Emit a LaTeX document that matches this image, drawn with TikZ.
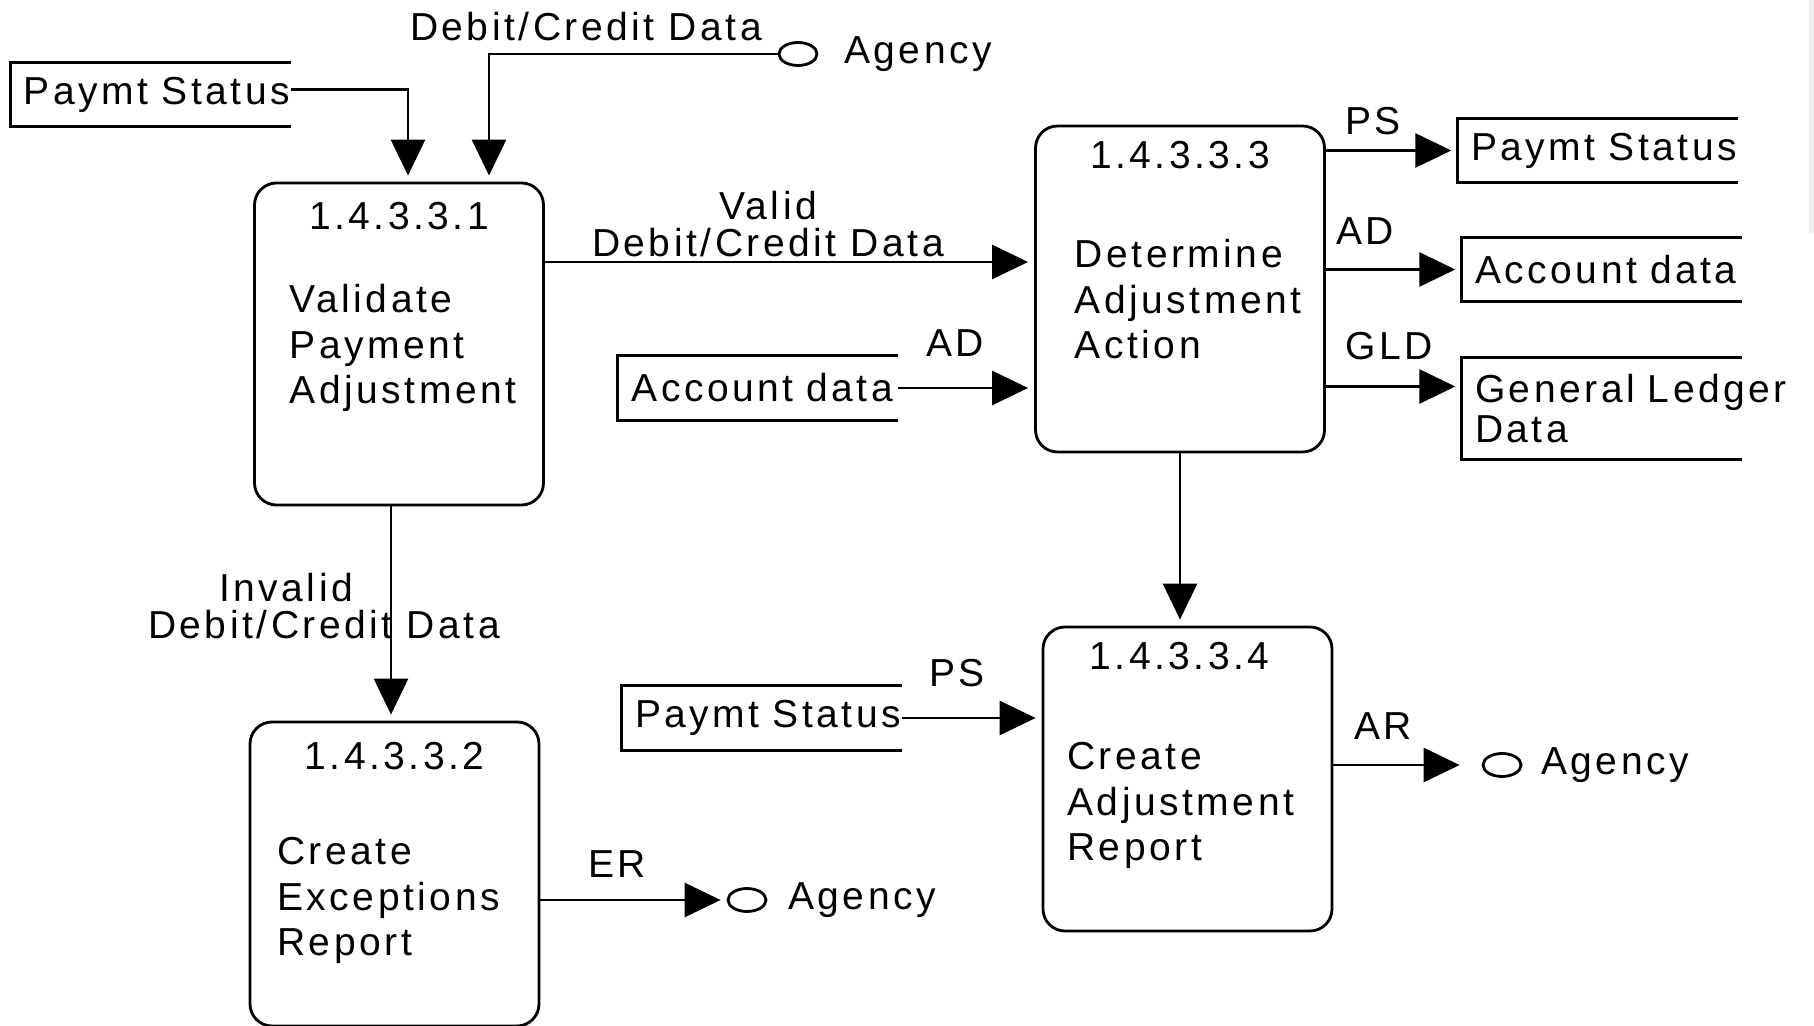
\documentclass[tikz,border=0pt]{standalone}
\usepackage{fontspec}
\setmainfont{Liberation Sans}[LetterSpace=9]
\usetikzlibrary{
    arrows.meta,
    positioning,
    shapes.geometric
}

\hyphenpenalty=10000
\exhyphenpenalty=10000

\tikzset{
    process/.style={draw, line width=0.8pt, rounded corners=0.22cm, minimum width=2.89cm},
    store/.style={minimum width=2.79cm, minimum height=0.63cm, text width=2.53cm,
        inner xsep=0.13cm, align=left, font=\fontsize{11.1pt}{11.4pt}\selectfont},
    agency/.style={draw, ellipse, line width=0.8pt, minimum width=0.38cm, minimum height=0.23cm, inner sep=0pt},
    txt/.style={inner sep=0pt},
    lbl/.style={inner sep=0pt, align=center, font=\fontsize{11.1pt}{10.6pt}\selectfont},
    desc/.style={inner sep=0pt, align=left},
    flow/.style={line width=0.8pt, -{Triangle[length=0.36cm, width=0.34cm]}, shorten >=0.06cm}
}

\newcommand{\openstore}[1]{\draw[line width=0.8pt] (#1.north east) -| (#1.south west) -- (#1.south east);}

\begin{document}
\begin{tikzpicture}[font=\fontsize{11.1pt}{13pt}\selectfont]
    \useasboundingbox (0,0) rectangle (18.14,10.25);
    \fill[gray!15] (18.09,7.92) rectangle (18.14,10.25);

    % processes
    \node[process, minimum height=3.22cm] (p1) at (3.99,6.81) {};
    \node[process, minimum height=3.04cm] (p2) at (3.945,1.51) {};
    \node[process, minimum height=3.26cm] (p3) at (11.80,7.36) {};
    \node[process, minimum height=3.04cm] (p4) at (11.875,2.46) {};

    \node[txt, below=0.2cm of p1.north] {1.4.3.3.1};
    \node[txt, below=0.21cm of p2.north] {1.4.3.3.2};
    \node[txt, below=0.16cm of p3.north] {1.4.3.3.3};
    \node[txt, below=0.16cm of p4.north, xshift=-0.08cm] {1.4.3.3.4};

    \node[desc, below right=1.02cm and 0.36cm of p1.north west] {Validate\\Payment\\Adjustment};
    \node[desc, below right=1.16cm and 0.28cm of p2.north west] {Create\\Exceptions\\Report};
    \node[desc, below right=1.14cm and 0.40cm of p3.north west] {Determine\\Adjustment\\Action};
    \node[desc, below right=1.16cm and 0.25cm of p4.north west] {Create\\Adjustment\\Report};

    % data stores
    \node[store] (s1) at (1.505,9.305) {Paymt~Status};
    \node[store] (s2) at (15.975,8.745) {Paymt~Status};
    \node[store] (s3) at (16.015,7.555) {Account~data};
    \node[store, minimum height=1.01cm] (s4) at (16.015,6.165) {General~Ledger\\Data};
    \node[store] (s5) at (7.58,6.37) {Account~data};
    \node[store] (s6) at (7.615,3.07) {Paymt~Status};
    \foreach \s in {s1,s2,s3,s4,s5,s6} \openstore{\s};

    % agencies
    \node[agency] (e1) at (7.98,9.71) {};
    \node[txt, right=0.25cm of e1] (e1t) {Agency};
    \node[agency] (e2) at (7.47,1.25) {};
    \node[txt, right=0.2cm of e2] (e2t) {Agency};
    \node[agency] (e3) at (15.02,2.60) {};
    \node[txt, right=0.18cm of e3] (e3t) {Agency};

    % flows
    \draw[flow] ([yshift=0.05cm]s1.east) -| ([xshift=0.09cm]p1.north);
    \draw[flow] (e1.west) -| ([xshift=0.9cm]p1.north);
    \draw[flow] ([yshift=0.82cm]p1.east) -- ([yshift=0.82cm]p1.east -| p3.west);
    \draw[flow] (s5.east) -- (s5.east -| p3.west);
    \draw[flow] (p3.east |- s2.west) -- (s2.west);
    \draw[flow] (p3.east |- s3.west) -- (s3.west);
    \draw[flow] ([yshift=0.22cm]s4.west -| p3.east) -- ([yshift=0.22cm]s4.west);
    \draw[flow] (p3.south) -- (p3.south |- p4.north);
    \draw[flow] ([xshift=-0.08cm]p1.south) -- ([xshift=-0.08cm]p1.south |- p2.north);
    \draw[flow] (s6.east) -- (s6.east -| p4.west);
    \draw[flow] (p2.east |- e2.west) -- (e2.west);
    \draw[flow, shorten >=0.22cm] (p4.east |- e3.west) -- (e3.west);

    \node[lbl] at (5.86,9.98) {Debit/Credit Data};
    \node[lbl] at (7.68,8.01) {Valid\\Debit/Credit Data};
    \node[lbl] at (3.24,4.19) {Invalid\hspace*{0.76cm}\\Debit/Credit Data};
    \node[lbl] at (9.55,6.82) {AD};
    \node[lbl] at (13.73,9.04) {PS};
    \node[lbl] at (13.65,7.94) {AD};
    \node[lbl] at (13.89,6.79) {GLD};
    \node[lbl] at (9.57,3.52) {PS};
    \node[lbl] at (13.83,2.99) {AR};
    \node[lbl] at (6.17,1.61) {ER};
\end{tikzpicture}
\end{document}
